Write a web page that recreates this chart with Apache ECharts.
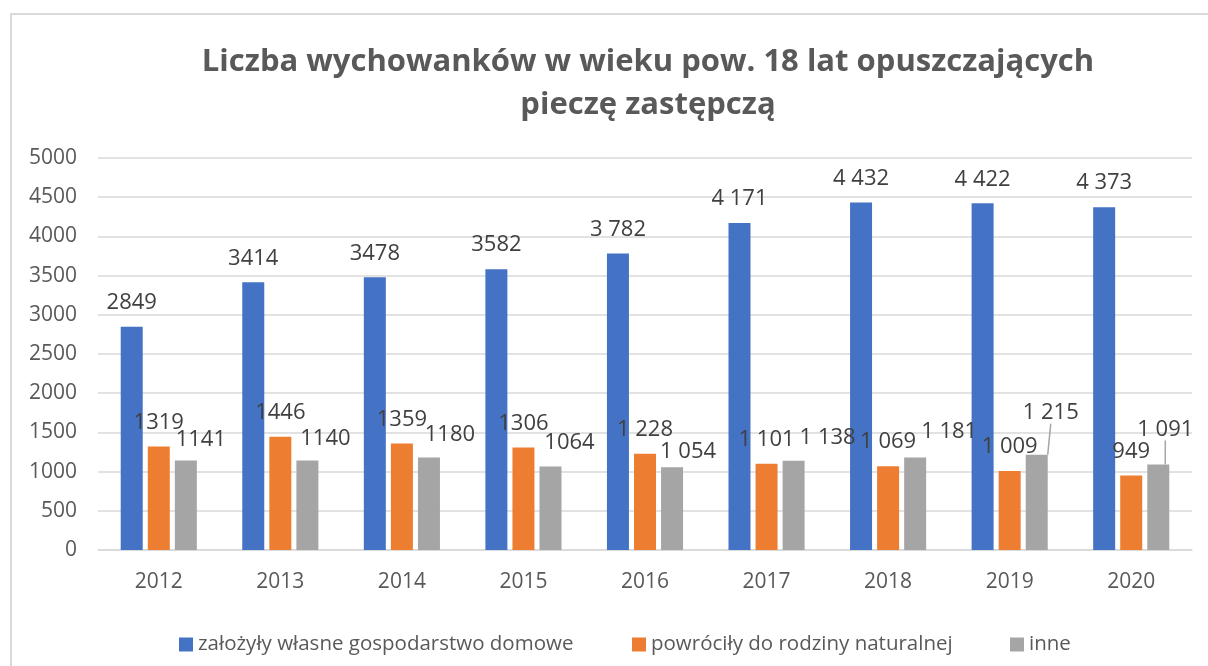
<!DOCTYPE html>
<html>
<head>
<meta charset="utf-8">
<script src="https://cdn.jsdelivr.net/npm/echarts@6/dist/echarts.min.js"></script>
<style>
  html, body { margin: 0; padding: 0; background: #fff; }
  #chart { width: 1208px; height: 666px; }
</style>
</head>
<body>
<div id="chart"></div>
<script>
// dane z wykresu
const years = ['2012', '2013', '2014', '2015', '2016', '2017', '2018', '2019', '2020']
const seriesNames = ['założyły własne gospodarstwo domowe', 'powróciły do rodziny naturalnej', 'inne']
const ownHousehold = [2849, 3414, 3478, 3582, 3782, 4171, 4432, 4422, 4373]
const backToFamily = [1319, 1446, 1359, 1306, 1228, 1101, 1069, 1009, 949]
const other = [1141, 1140, 1180, 1064, 1054, 1138, 1181, 1215, 1091]

// od 2016 etykiety mają separator tysięcy (spacja)
const spacedFrom = 4

const colors = ['#4472C4', '#ED7D31', '#A5A5A5']
const font = "'Open Sans', 'Noto Sans', sans-serif"

// ręcznie przesunięte etykiety szarej serii
const otherShiftX = [15, 18, 21, 19, 16, 34, 34, 14, 7]
const otherShiftY = [3, 2.5, 1, 0, 8, 1, -2, -18, -11]

const fmt = (p) => {
  const v = String(p.value)
  if (p.dataIndex < spacedFrom) return v
  return v.replace(/\B(?=(\d{3})+(?!\d))/g, ' ')
}

const labelStyle = {
  show: true,
  position: 'top',
  distance: 13,
  fontSize: 22,
  fontFamily: font,
  color: '#404040',
  formatter: fmt
}

const legendBase = {
  top: 629,
  icon: 'rect',
  itemWidth: 14,
  itemHeight: 14,
  textStyle: { fontSize: 20.5, fontFamily: font, color: '#595959' }
}

const option = {
  backgroundColor: '#fff',
  animation: false,
  color: colors,
  title: {
    text: 'Liczba wychowanków w wieku pow. 18 lat opuszczających\npieczę zastępczą',
    left: 643,
    top: 36,
    textAlign: 'center',
    textStyle: {
      fontSize: 31,
      fontWeight: 'bold',
      fontFamily: font,
      color: '#595959',
      lineHeight: 43
    }
  },
  legend: [
    Object.assign({ left: 174, data: [seriesNames[0]] }, legendBase),
    Object.assign({ left: 627, data: [seriesNames[1]] }, legendBase),
    Object.assign({ left: 1005, data: [seriesNames[2]] }, legendBase)
  ],
  grid: {
    left: 98,
    right: 16,
    top: 158,
    bottom: 116
  },
  xAxis: {
    type: 'category',
    data: years,
    axisTick: { show: false },
    axisLine: { lineStyle: { color: '#d9d9d9', width: 1.5 } },
    axisLabel: { fontSize: 21, fontFamily: font, color: '#595959', margin: 22 }
  },
  yAxis: {
    type: 'value',
    min: 0,
    max: 5000,
    interval: 500,
    axisLine: { show: false },
    axisTick: { show: false },
    axisLabel: {
      fontSize: 21,
      fontFamily: font,
      color: '#595959',
      margin: 21,
      formatter: (v) => String(v)
    },
    splitLine: { lineStyle: { color: '#d9d9d9', width: 1.5 } }
  },
  graphic: [
    {
      type: 'polyline',
      silent: true,
      shape: { points: [[11, 700], [11, 14], [1220, 14]] },
      style: { fill: null, stroke: '#d9d9d9', lineWidth: 2 }
    }
  ],
  series: [
    {
      name: seriesNames[0],
      type: 'bar',
      barWidth: 22,
      barGap: '23%',
      data: ownHousehold,
      label: labelStyle
    },
    {
      name: seriesNames[1],
      type: 'bar',
      barWidth: 22,
      barGap: '23%',
      data: backToFamily,
      label: labelStyle
    },
    {
      name: seriesNames[2],
      type: 'bar',
      barWidth: 22,
      barGap: '23%',
      data: other.map((v, i) => ({ value: v, labelLine: { show: i >= 7 } })),
      label: labelStyle,
      labelLine: { lineStyle: { color: '#A5A5A5', width: 1.5 } },
      labelLayout: (p) => ({ dx: otherShiftX[p.dataIndex], dy: otherShiftY[p.dataIndex] })
    }
  ]
}

const chart = echarts.init(document.getElementById('chart'))
chart.setOption(option)
</script>
</body>
</html>
